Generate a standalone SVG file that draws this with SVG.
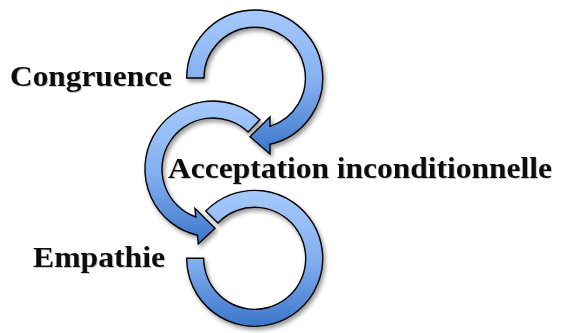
<svg xmlns="http://www.w3.org/2000/svg" width="561" height="333" viewBox="0 0 561 333">
  <defs>
    <linearGradient id="blue" x1="0" y1="0" x2="0" y2="1">
      <stop offset="0" stop-color="#a6c9fb"/>
      <stop offset="0.5" stop-color="#84b0f0"/>
      <stop offset="1" stop-color="#3c76ca"/>
    </linearGradient>
    <filter id="shadow" x="-20%" y="-20%" width="140%" height="140%">
      <feDropShadow dx="2" dy="3" stdDeviation="2" flood-color="#000" flood-opacity="0.4"/>
    </filter>
    <filter id="tshadow" x="-5%" y="-20%" width="110%" height="140%">
      <feDropShadow dx="1" dy="1" stdDeviation="0.7" flood-color="#000" flood-opacity="0.2"/>
    </filter>
  </defs>
  <style>
    .arrow { fill: url(#blue); stroke: #000; stroke-width: 1.4; stroke-linejoin: miter; filter: url(#shadow); }
    .label { font-family: "Liberation Serif", "Times New Roman", serif; font-weight: bold; font-size: 30px; fill: #111; filter: url(#tshadow); }
  </style>
  <g id="connectors"></g>
  <g id="node-empathie">
    <path class="arrow" d="M 186.7 258.3 A 68 68 0 1 0 205.8 211.1 L 218.0 222.9 A 51 51 0 1 1 203.7 258.3 Z"/>
    <text class="label" x="33" y="267" textLength="132" lengthAdjust="spacingAndGlyphs">Empathie</text>
  </g>
  <g id="node-acceptation">
    <path class="arrow" d="M 259.8 119.7 A 68 68 0 1 0 197.5 235.2 L 198.3 244 L 215 228.3 L 195 208.3 L 195.8 217.0 A 51 51 0 1 1 248.1 132.0 Z"/>
    <text class="label" x="168" y="178" textLength="384" lengthAdjust="spacingAndGlyphs">Acceptation inconditionnelle</text>
  </g>
  <g id="node-congruence">
    <path class="arrow" d="M 186.7 78 A 68 68 0 1 1 270 144.3 L 270 154 L 250 136.7 L 270 117 L 270 126.3 A 50.7 50.7 0 1 0 204 78 Z"/>
    <text class="label" x="10" y="86" textLength="162" lengthAdjust="spacingAndGlyphs">Congruence</text>
  </g>
</svg>
